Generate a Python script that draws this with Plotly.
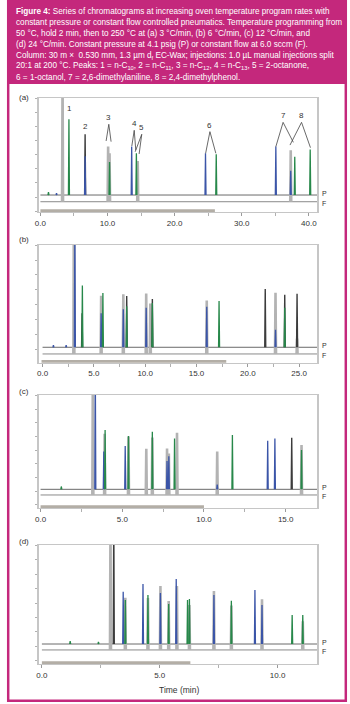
import plotly.graph_objects as go

W, H = 350, 704

# ---------------- data (times in min, heights in % of frame above P baseline) ----------------
# (a) 3 °C/min
A_GRAY_T = [3.3, 10.09, 10.3, 14.5, 37.3]
A_GRAY_H = [130, 57, 50, 42, 53]
A_DARK_T = [6.66]
A_DARK_H = [62.6]
A_BLUE_T = [2.4, 6.66, 13.6, 24.6, 35.08, 37.3]
A_BLUE_H = [2, 40, 50, 43, 50, 25]
A_GREEN_T = [1.2, 4.25, 10.3, 14.3, 26.2, 37.9, 40.2]
A_GREEN_H = [3, 78, 34, 43, 42, 39.5, 47]

# (b) 6 °C/min
B_GRAY_T = [3.05, 5.71, 7.87, 10.1, 10.5, 16.0, 22.7, 24.8]
B_GRAY_H = [130, 56.7, 58, 58.7, 49, 52, 59.6, 15]
B_DARK_T = [3.85, 8.2, 10.7, 21.7, 23.6, 24.8]
B_DARK_H = [33, 50, 47, 56.7, 51, 52]
B_BLUE_T = [1.06, 2.3, 3.15, 5.71, 7.87, 10.1, 16.0, 22.7]
B_BLUE_H = [2, 2, 130, 33, 37, 38.5, 39.5, 17]
B_GREEN_T = [3.88, 5.88, 8.2, 10.7, 17.2, 23.6]
B_GREEN_H = [60, 52.8, 40, 43, 45, 38.5]

# (c) 12 °C/min
C_GRAY_T = [3.2, 3.92, 5.38, 6.47, 6.84, 7.74, 7.85, 8.35, 10.81, 15.97]
C_GRAY_H = [130, 65, 62, 49, 61, 49.4, 44, 66, 46, 53]
C_DARK_T = [15.37]
C_DARK_H = [54.7]
C_BLUE_T = [3.35, 3.87, 5.18, 7.74, 7.85, 10.81, 13.9, 14.34]
C_BLUE_H = [130, 40, 46, 30, 35, 5, 51.5, 54]
C_GREEN_T = [1.27, 3.95, 5.38, 6.84, 8.2, 11.74, 15.97]
C_GREEN_H = [3, 63, 56.5, 61, 54, 57.6, 41.7]

# (d) 24 °C/min
D_GRAY_T = [2.91, 3.54, 4.5, 5.03, 5.38, 5.73, 6.26, 7.3, 8.04, 9.34, 11.07]
D_GRAY_H = [130, 52.8, 52.5, 64.6, 49.5, 64.6, 45.5, 59.6, 45, 51.2, 29]
D_DARK_T = [3.05]
D_DARK_H = [130]
D_BLUE_T = [3.45, 4.29, 5.03, 5.70, 7.3, 9.04, 9.34]
D_BLUE_H = [52.8, 60.6, 51.5, 65.7, 49.5, 54.5, 39.4]
D_GREEN_T = [1.2, 2.4, 3.54, 4.5, 5.38, 6.18, 6.26, 8.04, 10.62, 11.07]
D_GREEN_H = [3, 2, 44.4, 49.5, 40.4, 44.4, 45.5, 43.7, 29.3, 29.3]

# axis ranges, F-trace offsets, and time-window bar per panel
X_RANGES = [[-0.27, 41.27], [-0.385, 26.78], [-0.12, 16.94], [-0.14, 11.69]]
Y_RANGES = [[-17.5, 100], [-15, 100], [-19.8, 100], [-20.2, 100]]
F_OFFSETS = [-6.9, -6.5, -6.0, -6.0]
BAR_SPANS = [[0, 26], [-0.1, 17.9], [0, 10], [0, 6.3]]
X_DTICKS = [10, 5, 5, 5]
X_MINOR = [5, 2.5, 2.5, 2.5]
PANEL_LABELS = ["(a)", "(b)", "(c)", "(d)"]

# peak labels in (a)
LBL_TEXT = ["1", "2"]
LBL_T = [4.3, 6.66]
LBL_Y = [82, 64]
V_TEXT = ["3", "4", "5", "6", "7", "8"]
V_APEX_T = [10.19, 13.98, 15.1, 25.26, 36.16, 38.91]
V_APEX_Y = [72.9, 66.7, 62.6, 65.3, 74.9, 74.9]
V_LEFT_T = [9.79, 13.62, 14.12, 24.62, 35.08, 37.19]
V_LEFT_Y = [55.7, 50.5, 44.6, 43, 49.8, 51.5]
V_RIGHT_T = [10.53, 14.21, 14.71, 26.14, 37.69, 40.24]
V_RIGHT_Y = [55, 46.4, 42.3, 43, 54.3, 48.8]

HEADER_LINES = [
    "<b>Figure 4:</b> Series of chromatograms at increasing oven temperature program rates with",
    "constant pressure or constant flow controlled pneumatics. Temperature programming from",
    "50 °C, hold 2 min, then to 250 °C at (a) 3 °C/min, (b) 6 °C/min, (c) 12 °C/min, and",
    "(d) 24 °C/min. Constant pressure at 4.1 psig (P) or constant flow at 6.0 sccm (F).",
    "Column: 30 m ×  0.530 mm, 1.3 µm d<sub>f</sub> EC-Wax; injections: 1.0 µL manual injections split",
    "20:1 at 200 °C. Peaks: 1 = n-C<sub>10</sub>, 2 = n-C<sub>11</sub>, 3 = n-C<sub>12</sub>, 4 = n-C<sub>13</sub>, 5 = 2-octanone,",
    "6 = 1-octanol, 7 = 2,6-dimethylaniline, 8 = 2,4-dimethylphenol.",
]

# ---------------- styling / layout (pixels) ----------------
MAGENTA = "#c4287c"
FONT = "Liberation Sans, Arial, sans-serif"
X_PX = (35, 317)
PANEL_PX = [(98, 212), (244.5, 362.7), (395, 508), (545, 664)]  # top, bottom(axis)
LABEL_PX_Y = [97, 240, 391, 541.5]


def py(px):
    return 1 - px / H


def px_x(px):
    return px / W


def spikes(ts, hs, base, w):
    xs, ys = [], []
    for t, h in zip(ts, hs):
        xs += [t - w, t, t + w, None]
        ys += [base, base + h, base, None]
    return xs, ys


fig = go.Figure()
panels = [
    (A_GRAY_T, A_GRAY_H, A_DARK_T, A_DARK_H, A_BLUE_T, A_BLUE_H, A_GREEN_T, A_GREEN_H),
    (B_GRAY_T, B_GRAY_H, B_DARK_T, B_DARK_H, B_BLUE_T, B_BLUE_H, B_GREEN_T, B_GREEN_H),
    (C_GRAY_T, C_GRAY_H, C_DARK_T, C_DARK_H, C_BLUE_T, C_BLUE_H, C_GREEN_T, C_GREEN_H),
    (D_GRAY_T, D_GRAY_H, D_DARK_T, D_DARK_H, D_BLUE_T, D_BLUE_H, D_GREEN_T, D_GREEN_H),
]

shapes = []
annotations = []

# frame background / header
shapes.append(dict(type="rect", xref="paper", yref="paper", x0=px_x(3), x1=px_x(347),
                   y0=py(702), y1=py(0), fillcolor=MAGENTA, line_width=0, layer="below"))
shapes.append(dict(type="rect", xref="paper", yref="paper", x0=px_x(5.5), x1=px_x(344.5),
                   y0=py(699.5), y1=py(84), fillcolor="white", line_width=0, layer="below"))

for i, line in enumerate(HEADER_LINES):
    annotations.append(dict(text=line, xref="paper", yref="paper", x=px_x(10),
                            y=py(11.7 + i * 10.95), xanchor="left", yanchor="middle",
                            showarrow=False, font=dict(family=FONT, size=8.2, color="white")))

for k, (gt, gh, dt, dh, bt, bh, ct, ch) in enumerate(panels):
    n = "" if k == 0 else str(k + 1)
    xr = X_RANGES[k]
    yr = Y_RANGES[k]
    fo = F_OFFSETS[k]
    span = xr[1] - xr[0]
    w = span * 0.0018
    top, bot = PANEL_PX[k]
    xa = "x" + n
    ya = "y" + n

    # baselines
    t_end = xr[1]
    fig.add_trace(go.Scatter(x=[0, t_end], y=[fo, fo], mode="lines", xaxis=xa, yaxis=ya,
                             line=dict(color="#8a8a8a", width=1), hoverinfo="skip"))
    fig.add_trace(go.Scatter(x=[0, t_end], y=[0, 0], mode="lines", xaxis=xa, yaxis=ya,
                             line=dict(color="#6a6a6a", width=1), hoverinfo="skip"))
    # peaks
    for ts, hs, col, lw, base in [
        (gt, gh, "#b3b3b3", 2.6, fo),
        (dt, dh, "#3c3c3c", 1.4, 0),
        (bt, bh, "#3b55a8", 1.3, 0),
        (ct, ch, "#27884a", 1.3, 0),
    ]:
        xs, ys = spikes(ts, hs, base, w)
        fig.add_trace(go.Scatter(x=xs, y=ys, mode="lines", xaxis=xa, yaxis=ya,
                                 line=dict(color=col, width=lw), hoverinfo="skip"))

    dom_y = [py(bot), py(top)]
    fig.update_layout(**{
        ("xaxis" + n): dict(domain=[px_x(X_PX[0]), px_x(X_PX[1])], range=xr, anchor=ya,
                            showline=True, linecolor="#c6c6c6", linewidth=1, mirror=True,
                            ticks="outside", ticklen=3, tickcolor="#9a9a9a", tickwidth=1,
                            dtick=X_DTICKS[k], tick0=0, tickformat=".1f",
                            minor=dict(dtick=X_MINOR[k], ticks="outside", ticklen=3,
                                       tickcolor="#b0b0b0", showgrid=False),
                            tickfont=dict(family=FONT, size=8, color="#333"),
                            showgrid=False, zeroline=False, fixedrange=True),
        ("yaxis" + n): dict(domain=dom_y, range=yr, anchor=xa,
                            showline=True, linecolor="#c6c6c6", linewidth=1.5, mirror=True,
                            ticks="outside", ticklen=2, tickcolor="#b0b0b0",
                            tick0=12.4, dtick=14.5, showticklabels=False,
                            showgrid=False, zeroline=False, fixedrange=True),
    })

    # time window bar
    shapes.append(dict(type="line", xref=xa, yref=ya, x0=BAR_SPANS[k][0], x1=BAR_SPANS[k][1],
                       y0=yr[0] + 1.2, y1=yr[0] + 1.2, line=dict(color="#b3aea6", width=3)))

    # P / F labels
    annotations.append(dict(text="P", xref="paper", yref=ya, x=px_x(320), y=0, xanchor="left",
                            yanchor="middle", yshift=2, showarrow=False,
                            font=dict(family=FONT, size=7, color="#333")))
    annotations.append(dict(text="F", xref="paper", yref=ya, x=px_x(320), y=fo,
                            xanchor="left", yanchor="middle", yshift=-2, showarrow=False,
                            font=dict(family=FONT, size=7, color="#333")))
    # panel label
    annotations.append(dict(text=PANEL_LABELS[k], xref="paper", yref="paper", x=px_x(13),
                            y=py(LABEL_PX_Y[k]), xanchor="left", yanchor="middle",
                            showarrow=False, font=dict(family=FONT, size=8, color="#333")))

# peak number labels in (a)
for txt, t, y in zip(LBL_TEXT, LBL_T, LBL_Y):
    annotations.append(dict(text=txt, xref="x", yref="y", x=t, y=y, xanchor="center",
                            yanchor="bottom", showarrow=False,
                            font=dict(family=FONT, size=8, color="#333")))
for txt, at, ay, lt, ly, rt, ry in zip(V_TEXT, V_APEX_T, V_APEX_Y, V_LEFT_T, V_LEFT_Y,
                                       V_RIGHT_T, V_RIGHT_Y):
    annotations.append(dict(text=txt, xref="x", yref="y", x=at, y=ay, xanchor="center",
                            yanchor="bottom", showarrow=False,
                            font=dict(family=FONT, size=8, color="#333")))
    for ex, ey in [(lt, ly), (rt, ry)]:
        shapes.append(dict(type="line", xref="x", yref="y", x0=at, y0=ay, x1=ex, y1=ey,
                           line=dict(color="#444", width=0.8)))

annotations.append(dict(text="Time (min)", xref="paper", yref="paper", x=px_x(176.7),
                        y=py(690), xanchor="center", yanchor="middle", showarrow=False,
                        font=dict(family=FONT, size=8.5, color="#333")))

fig.update_layout(width=W, height=H, margin=dict(l=0, r=0, t=0, b=0, pad=0),
                  paper_bgcolor="white", plot_bgcolor="white", showlegend=False,
                  shapes=shapes, annotations=annotations)

fig.write_html("out.html")
